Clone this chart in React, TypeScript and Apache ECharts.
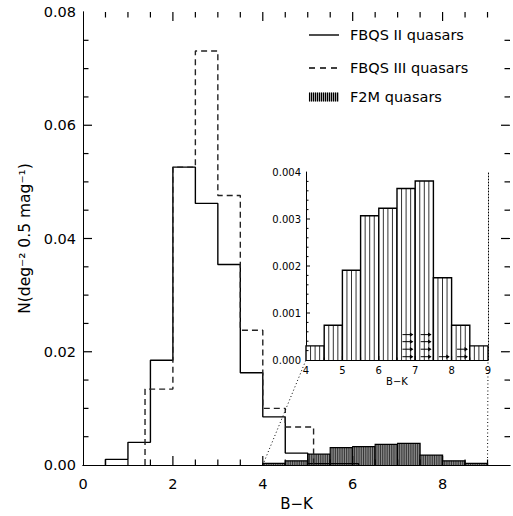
import React, { useEffect, useRef } from "react";
import * as echarts from "echarts";

const FONT = "DejaVu Sans";

// ---- Data ----
const xMajorTicks = [0, 2, 4, 6, 8];
const insetXTicks = [4, 5, 6, 7, 8, 9];
const mainXRange = [0, 9.5];
const mainYRange = [0, 0.08];
const insetXRange = [4, 9];
const insetYRange = [0, 0.004];

// FBQS II quasars (solid histogram): bin edges and heights
const fbqs2Edges = [0.5, 1.0, 1.5, 2.0, 2.5, 3.0, 3.5, 4.0, 4.5, 5.0, 6.13];
const fbqs2Values = [0.001, 0.004, 0.0185, 0.0526, 0.0462, 0.0354, 0.0163, 0.0085, 0.0021, 0.00025];

// FBQS III quasars (dashed histogram)
const fbqs3Edges = [1.38, 2.0, 2.5, 3.0, 3.5, 4.0, 4.5, 5.13];
const fbqs3Values = [0.0134, 0.0526, 0.0731, 0.0476, 0.0238, 0.01, 0.0067];

// F2M quasars (hatched histogram)
const f2mEdges = [4.0, 4.5, 5.0, 5.5, 6.0, 6.5, 7.0, 7.5, 8.0, 8.5, 9.0];
const f2mValues = [0.0003, 0.00074, 0.00191, 0.00307, 0.00323, 0.00365, 0.00381, 0.00175, 0.00074, 0.0003];

// Lower limits shown as arrows in the inset
const limitFromX = [6.65, 6.65, 6.65, 6.65, 7.15, 7.15, 7.15, 7.15, 7.65, 8.15, 8.15];
const limitToX = [6.95, 6.95, 6.95, 6.95, 7.45, 7.45, 7.45, 7.45, 7.95, 8.45, 8.45];
const limitY = [0.00007, 0.00023, 0.00039, 0.00054, 0.00007, 0.00023, 0.00039, 0.00054, 0.00007, 0.00007, 0.00023];

// ---- helpers ----
function steps(edges: number[], values: number[]) {
  const pts: number[][] = [[edges[0], 0]];
  values.forEach((v, i) => {
    pts.push([edges[i], v]);
    pts.push([edges[i + 1], v]);
  });
  pts.push([edges[edges.length - 1], 0]);
  return pts;
}

function bins(edges: number[], values: number[]) {
  return values.map((v, i) => [edges[i], edges[i + 1], v]);
}

// tick positions along an axis range: [value, isMajor]
function tickList(range: number[], minorStep: number, majorStep: number) {
  const out: number[][] = [];
  const n = Math.round((range[1] - range[0]) / minorStep);
  for (let k = 1; k < n; k++) {
    const v = +(range[0] + k * minorStep).toFixed(6);
    const r = v / majorStep;
    out.push([v, Math.abs(r - Math.round(r)) < 1e-6 ? 1 : 0]);
  }
  return out;
}

function hatchRender(spacing: number, fill: string, stripe: string, stripeWidth: number, outline: number) {
  return (params: any, api: any) => {
    const x0 = api.value(0);
    const x1 = api.value(1);
    const h = api.value(2);
    const p0 = api.coord([x0, 0]);
    const p1 = api.coord([x1, h]);
    const children: any[] = [];
    children.push({
      type: "rect",
      shape: { x: p0[0], y: p1[1], width: p1[0] - p0[0], height: p0[1] - p1[1] },
      style: { fill, stroke: "none" },
    });
    const n = Math.round((x1 - x0) / spacing);
    for (let k = 1; k < n; k++) {
      const px = api.coord([x0 + k * spacing, 0])[0];
      children.push({
        type: "line",
        shape: { x1: px, y1: p0[1], x2: px, y2: p1[1] },
        style: { stroke: stripe, lineWidth: stripeWidth },
      });
    }
    children.push({
      type: "polyline",
      shape: { points: [[p0[0], p0[1]], [p0[0], p1[1]], [p1[0], p1[1]], [p1[0], p0[1]]] },
      style: { stroke: "#000", lineWidth: outline, fill: "none" },
    });
    return { type: "group", children };
  };
}

function arrowRender(params: any, api: any) {
  const a = api.coord([api.value(0), api.value(2)]);
  const b = api.coord([api.value(1), api.value(2)]);
  return {
    type: "group",
    children: [
      { type: "line", shape: { x1: a[0], y1: a[1], x2: b[0] - 1, y2: b[1] }, style: { stroke: "#000", lineWidth: 1 } },
      {
        type: "polygon",
        shape: { points: [[b[0], b[1]], [b[0] - 3.5, b[1] - 2.2], [b[0] - 3.5, b[1] + 2.2]] },
        style: { fill: "#000", stroke: "none" },
      },
    ],
  };
}

const seg = (x1: number, y1: number, x2: number, y2: number, w: number) => ({
  type: "line",
  shape: { x1, y1, x2, y2 },
  style: { stroke: "#000", lineWidth: w },
});

// x-direction ticks: drawn at the bottom (and optionally top) of the plot
function xTickRender(yRange: number[], major: number, minor: number, both: boolean, w: number) {
  return (params: any, api: any) => {
    const x = api.value(0);
    const L = api.value(2) ? major : minor;
    const b = api.coord([x, yRange[0]]);
    const t = api.coord([x, yRange[1]]);
    const ch: any[] = [seg(b[0], b[1], b[0], b[1] - L, w)];
    if (both) ch.push(seg(t[0], t[1], t[0], t[1] + L, w));
    return { type: "group", children: ch };
  };
}

function yTickRender(xRange: number[], major: number, minor: number, both: boolean, w: number) {
  return (params: any, api: any) => {
    const y = api.value(1);
    const L = api.value(2) ? major : minor;
    const l = api.coord([xRange[0], y]);
    const r = api.coord([xRange[1], y]);
    const ch: any[] = [seg(l[0], l[1], l[0] + L, l[1], w)];
    if (both) ch.push(seg(r[0], r[1], r[0] - L, r[1], w));
    return { type: "group", children: ch };
  };
}

const black = "#000";

export default function App() {
  const ref = useRef<HTMLDivElement>(null);
  useEffect(() => {
    if (!ref.current) return;
    const chart = echarts.init(ref.current, null, { renderer: "svg" });
    const tickLabel = { fontFamily: FONT, fontSize: 14.5, color: black };
    const noTick = { show: false };
    const option: any = {
      animation: false,
      backgroundColor: "#fff",
      grid: [
        { left: 83, top: 12, width: 428, height: 460 },
        { left: 306, top: 172, width: 182, height: 188 },
      ],
      xAxis: [
        {
          gridIndex: 0, type: "value", position: "bottom", min: mainXRange[0], max: mainXRange[1], interval: 2,
          axisLine: { show: true, lineStyle: { color: black, width: 1 } },
          axisTick: noTick, splitLine: { show: false },
          axisLabel: {
            ...tickLabel, margin: 11,
            formatter: (v: number) => (xMajorTicks.includes(v) ? String(v) : ""),
          },
          name: "B\u2212K", nameLocation: "middle", nameGap: 31,
          nameTextStyle: { fontFamily: FONT, fontSize: 15, color: black },
        },
        {
          gridIndex: 0, type: "value", position: "top", min: mainXRange[0], max: mainXRange[1], interval: 2,
          axisLine: { show: true, lineStyle: { color: black, width: 1 } },
          axisTick: noTick, axisLabel: { show: false }, splitLine: { show: false },
        },
        {
          gridIndex: 1, type: "value", position: "bottom", min: insetXRange[0], max: insetXRange[1], interval: 1,
          axisLine: { show: true, lineStyle: { color: black, width: 1 } },
          axisTick: noTick, splitLine: { show: false },
          axisLabel: {
            fontFamily: FONT, fontSize: 10, color: black, margin: 5,
            formatter: (v: number) => (insetXTicks.includes(v) ? String(v) : ""),
          },
          name: "B\u2212K", nameLocation: "middle", nameGap: 16,
          nameTextStyle: { fontFamily: FONT, fontSize: 10, color: black },
        },
        {
          gridIndex: 1, type: "value", position: "top", min: insetXRange[0], max: insetXRange[1], interval: 1,
          axisLine: { show: true, lineStyle: { color: black, width: 1, type: [1, 2] } },
          axisTick: noTick, axisLabel: { show: false }, splitLine: { show: false },
        },
      ],
      yAxis: [
        {
          gridIndex: 0, type: "value", position: "left", min: mainYRange[0], max: mainYRange[1], interval: 0.02,
          axisLine: { show: true, lineStyle: { color: black, width: 1 } },
          axisTick: noTick, splitLine: { show: false },
          axisLabel: { ...tickLabel, margin: 7, formatter: (v: number) => v.toFixed(2) },
          name: "N(deg\u207B\u00B2 0.5 mag\u207B\u00B9)", nameLocation: "middle", nameGap: 48, nameRotate: 90,
          nameTextStyle: { fontFamily: FONT, fontSize: 15.5, color: black },
        },
        {
          gridIndex: 0, type: "value", position: "right", min: mainYRange[0], max: mainYRange[1], interval: 0.02,
          axisLine: { show: true, lineStyle: { color: black, width: 1 } },
          axisTick: noTick, axisLabel: { show: false }, splitLine: { show: false },
        },
        {
          gridIndex: 1, type: "value", position: "left", min: insetYRange[0], max: insetYRange[1], interval: 0.001,
          axisLine: { show: true, lineStyle: { color: black, width: 1 } },
          axisTick: noTick, splitLine: { show: false },
          axisLabel: { fontFamily: FONT, fontSize: 10, color: black, margin: 5, formatter: (v: number) => v.toFixed(3) },
        },
        {
          gridIndex: 1, type: "value", position: "right", min: insetYRange[0], max: insetYRange[1], interval: 0.001,
          axisLine: { show: true, lineStyle: { color: black, width: 1, type: [1, 2] } },
          axisTick: noTick, axisLabel: { show: false }, splitLine: { show: false },
        },
      ],
      series: [
        {
          name: "F2M quasars", type: "custom", xAxisIndex: 0, yAxisIndex: 0,
          renderItem: hatchRender(0.04, "#a0a0a0", "#333", 1, 1.2),
          data: bins(f2mEdges, f2mValues), encode: { x: [0, 1], y: 2 }, z: 2,
        },
        {
          name: "FBQS II quasars", type: "line", xAxisIndex: 0, yAxisIndex: 0,
          data: steps(fbqs2Edges, fbqs2Values), showSymbol: false, symbol: "none",
          lineStyle: { color: black, width: 1.4 }, z: 3,
        },
        {
          name: "FBQS III quasars", type: "line", xAxisIndex: 0, yAxisIndex: 0,
          data: steps(fbqs3Edges, fbqs3Values), showSymbol: false, symbol: "none",
          lineStyle: { color: "#222", width: 1.4, type: [6, 4] }, z: 3,
        },
        {
          name: "main x ticks", type: "custom", xAxisIndex: 0, yAxisIndex: 0, clip: false,
          renderItem: xTickRender(mainYRange, 9, 5.5, true, 1.2),
          data: tickList(mainXRange, 0.5, 2).map((t) => [t[0], mainYRange[0], t[1]]),
          encode: { x: 0, y: 1 }, z: 6, silent: true,
        },
        {
          name: "main y ticks", type: "custom", xAxisIndex: 0, yAxisIndex: 0, clip: false,
          renderItem: yTickRender(mainXRange, 9, 5.5, true, 1.2),
          data: tickList(mainYRange, 0.005, 0.02).map((t) => [mainXRange[0], t[0], t[1]]),
          encode: { x: 0, y: 1 }, z: 6, silent: true,
        },
        {
          name: "F2M inset", type: "custom", xAxisIndex: 2, yAxisIndex: 2,
          renderItem: hatchRender(0.125, "#fff", "#333", 1, 1.4),
          data: bins(f2mEdges, f2mValues), encode: { x: [0, 1], y: 2 }, z: 4,
        },
        {
          name: "lower limits", type: "custom", xAxisIndex: 2, yAxisIndex: 2,
          renderItem: arrowRender,
          data: limitFromX.map((x, i) => [x, limitToX[i], limitY[i]]), encode: { x: [0, 1], y: 2 }, z: 5,
        },
        {
          name: "inset x ticks", type: "custom", xAxisIndex: 2, yAxisIndex: 2, clip: false,
          renderItem: xTickRender(insetYRange, 4, 2.5, false, 1),
          data: tickList(insetXRange, 0.5, 1).map((t) => [t[0], insetYRange[0], t[1]]),
          encode: { x: 0, y: 1 }, z: 6, silent: true,
        },
        {
          name: "inset y ticks", type: "custom", xAxisIndex: 2, yAxisIndex: 2, clip: false,
          renderItem: yTickRender(insetXRange, 4, 2.5, false, 1),
          data: tickList(insetYRange, 0.0002, 0.001).map((t) => [insetXRange[0], t[0], t[1]]),
          encode: { x: 0, y: 1 }, z: 6, silent: true,
        },
      ],
    };
    chart.setOption(option);

    const a = chart.convertToPixel({ gridIndex: 0 } as any, [4, 0]) as number[];
    const b = chart.convertToPixel({ gridIndex: 1 } as any, [4, 0]) as number[];
    const c = chart.convertToPixel({ gridIndex: 0 } as any, [9, 0]) as number[];
    const d = chart.convertToPixel({ gridIndex: 1 } as any, [9, 0]) as number[];

    const lx0 = 309, lx1 = 339, tx = 350;
    const hatchLines: any[] = [];
    for (let x = lx0 + 0.5; x <= lx1; x += 2) {
      hatchLines.push({ type: "line", shape: { x1: x, y1: 92.5, x2: x, y2: 101.5 }, style: { stroke: "#000", lineWidth: 1.1 } });
    }
    const legendText = { fontFamily: FONT, fontSize: 14.5, fill: black, verticalAlign: "middle", align: "left" };
    chart.setOption({
      graphic: [
        { type: "line", shape: { x1: a[0], y1: a[1], x2: b[0], y2: b[1] }, style: { stroke: black, lineWidth: 1, lineDash: [1, 2.5] }, z: 10 },
        { type: "line", shape: { x1: c[0], y1: c[1], x2: d[0], y2: d[1] }, style: { stroke: black, lineWidth: 1, lineDash: [1, 2.5] }, z: 10 },
        { type: "line", shape: { x1: lx0, y1: 35, x2: lx1, y2: 35 }, style: { stroke: black, lineWidth: 1.4 } },
        { type: "text", x: tx, y: 35, style: { text: "FBQS II quasars", ...legendText } },
        { type: "line", shape: { x1: lx0, y1: 68, x2: lx1, y2: 68 }, style: { stroke: black, lineWidth: 1.4, lineDash: [6, 5] } },
        { type: "text", x: tx, y: 68, style: { text: "FBQS III quasars", ...legendText } },
        { type: "rect", shape: { x: lx0, y: 92.5, width: lx1 - lx0, height: 9 }, style: { fill: "#bbb", stroke: "none" } },
        ...hatchLines,
        { type: "text", x: tx, y: 97, style: { text: "F2M quasars", ...legendText } },
      ],
    });

    return () => chart.dispose();
  }, []);
  return (
    <div
      ref={ref}
      style={{ position: "fixed", left: 0, top: 0, width: 513, height: 516, background: "#fff" }}
    />
  );
}
